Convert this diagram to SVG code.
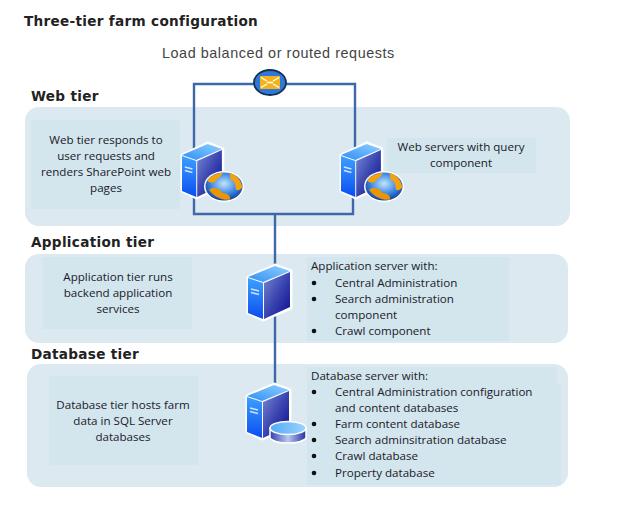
<svg xmlns="http://www.w3.org/2000/svg" width="624" height="525" viewBox="0 0 624 525">
<style>
.tier{fill:#dde9f0}
.inner{fill:#d3e5ed}
.t{font-family:"Open Sans","Noto Sans",sans-serif;font-size:11.6px;fill:#1a1a2a}
.m{text-anchor:middle}
.h{font-family:"DejaVu Sans",sans-serif;font-weight:700;font-size:13.6px;letter-spacing:.3px;fill:#222}
.sub{font-family:"Liberation Sans",sans-serif;font-size:14.4px;fill:#444;letter-spacing:.55px}
.wire{fill:none;stroke:#3f68a9;stroke-width:2.4}
.dot{fill:#111}
</style>
<defs>
<linearGradient id="front" x1="0" y1="0" x2="0" y2="1"><stop offset="0" stop-color="#3da0ff"/><stop offset="1" stop-color="#0a4df0"/></linearGradient>
<linearGradient id="side" x1="0" y1="0" x2="1" y2="1"><stop offset="0" stop-color="#7a8ad4"/><stop offset=".5" stop-color="#3a45b0"/><stop offset="1" stop-color="#0c0c90"/></linearGradient>
<linearGradient id="top" x1="0" y1="1" x2="1" y2="0"><stop offset="0" stop-color="#2f8df5"/><stop offset="1" stop-color="#8fd0ff"/></linearGradient>
<radialGradient id="sea" cx=".5" cy=".4" r=".6"><stop offset="0" stop-color="#c4e4ff"/><stop offset=".6" stop-color="#3a88e4"/><stop offset="1" stop-color="#123f9a"/></radialGradient>
<linearGradient id="disk" x1="0" y1="0" x2="1" y2="0"><stop offset="0" stop-color="#3340a8"/><stop offset=".5" stop-color="#b8c8f0"/><stop offset="1" stop-color="#2530a0"/></linearGradient>
<linearGradient id="disktop" x1="0" y1="0" x2="1" y2="0"><stop offset="0" stop-color="#55aaf5"/><stop offset="1" stop-color="#9ad4ff"/></linearGradient>
<g id="server">
<path d="M0 0L27-12 43-6V31L15 43 0 36Z" fill="#fff" stroke="#fff" stroke-width="3" stroke-linejoin="round"/>
<path d="M0 1L15 6V42L0 36Z" fill="url(#front)"/>
<path d="M16 6L42-5V30L16 42Z" fill="url(#side)"/>
<path d="M0 0L27-11 42-6 15 5Z" fill="url(#top)"/>
<path d="M3 12L11 14M3 15.500L11 17.500" stroke="#cfe6ff" stroke-width="1.300" fill="none"/>
</g>
<g id="globe">
<ellipse rx="20" ry="15.500" fill="#fff"/>
<ellipse rx="18.500" ry="14" fill="url(#sea)"/>
<path d="M-17-6C-13-11-7-13-1-14-2-10-6-9-8-6-10-3-14-3-17-6Z" fill="#f2a20c"/>
<path d="M5-14C12-12 17-7 18.500 1 16 3 14 5 12 3 11-1 12-4 8-6 5-8 7-11 5-14Z" fill="#f2a20c"/>
<path d="M-15 3C-9 0-4 2-2 6 2 7 7 8 6 13 0 14.500-10 11-15 3Z" fill="#e8950a"/>
</g>
</defs>

<g id="tier-panels">
<rect class="tier" x="25" y="107" width="545" height="119" rx="14"/>
<rect class="tier" x="25" y="254" width="543" height="89" rx="14"/>
<rect class="tier" x="27" y="364" width="541" height="123" rx="14"/>
</g>

<text class="h" x="24" y="26">Three-tier farm configuration</text>
<text class="sub" x="162" y="58">Load balanced or routed requests</text>
<text class="h" x="31" y="101">Web tier</text>
<text class="h" x="31" y="247">Application tier</text>
<text class="h" x="31" y="359">Database tier</text>

<g id="connectors">
<path class="wire" d="M194 190V84H355V150M353 190V214H194V190M275 214V265M275 315V400"/>
</g>

<g id="web-desc">
<rect class="inner" x="31" y="120" width="149" height="89"/>
<text class="t m" x="106" y="144">Web tier responds to</text>
<text class="t m" x="106" y="160">user requests and</text>
<text class="t m" x="106" y="176">renders SharePoint web</text>
<text class="t m" x="106" y="192">pages</text>
</g>
<g id="web-note">
<rect class="inner" x="387" y="138" width="149" height="35"/>
<text class="t m" x="461" y="151">Web servers with query</text>
<text class="t m" x="461" y="167">component</text>
</g>
<g id="app-desc">
<rect class="inner" x="43" y="257" width="149" height="72"/>
<text class="t m" x="118" y="281">Application tier runs</text>
<text class="t m" x="118" y="297">backend application</text>
<text class="t m" x="118" y="313">services</text>
</g>
<g id="app-note">
<rect class="inner" x="307" y="257" width="202" height="84"/>
<text class="t" x="311" y="270">Application server with:</text>
<circle class="dot" cx="314" cy="283" r="2.300"/><text class="t" x="335" y="287">Central Administration</text>
<circle class="dot" cx="314" cy="299" r="2.300"/><text class="t" x="335" y="303">Search administration</text>
<text class="t" x="335" y="319">component</text>
<circle class="dot" cx="314" cy="331" r="2.300"/><text class="t" x="335" y="335">Crawl component</text>
</g>
<g id="db-desc">
<rect class="inner" x="49" y="376" width="149" height="89"/>
<text class="t m" x="123" y="409">Database tier hosts farm</text>
<text class="t m" x="123" y="425">data in SQL Server</text>
<text class="t m" x="123" y="441">databases</text>
</g>
<g id="db-note">
<path class="inner" d="M307 367H557V385H561V485H307Z"/>
<text class="t" x="311" y="380">Database server with:</text>
<circle class="dot" cx="314" cy="392" r="2.300"/><text class="t" x="335" y="396">Central Administration configuration</text>
<text class="t" x="335" y="412">and content databases</text>
<circle class="dot" cx="314" cy="424" r="2.300"/><text class="t" x="335" y="428">Farm content database</text>
<circle class="dot" cx="314" cy="440" r="2.300"/><text class="t" x="335" y="444">Search adminsitration database</text>
<circle class="dot" cx="314" cy="456" r="2.300"/><text class="t" x="335" y="460">Crawl database</text>
<circle class="dot" cx="314" cy="473" r="2.300"/><text class="t" x="335" y="477">Property database</text>
</g>

<g id="load-balancer" transform="translate(270 82.500)">
<ellipse rx="16" ry="12.500" fill="#2f78d8" stroke="#12304f" stroke-width="1.800"/>
<rect x="-10" y="-6.500" width="20" height="13" fill="#f5b21a"/>
<path d="M-9-5L-3-1.500M9-5L3-1.500M-9 5L-3 1.500M9 5L3 1.500M-3 0H3" fill="none" stroke="#fff" stroke-width="1.400"/>
</g>
<g id="web-server-1">
<use href="#server" transform="translate(182 155) scale(.95 1)"/>
<use href="#globe" transform="translate(224 186.500)"/>
</g>
<g id="web-server-2">
<use href="#server" transform="translate(341 155) scale(.95 1)"/>
<use href="#globe" transform="translate(384 186.500)"/>
</g>
<g id="app-server">
<use href="#server" transform="translate(248 277)"/>
</g>
<g id="db-server">
<use href="#server" transform="translate(247 396)"/>
<path d="M270 428V438A18.500 6.500 0 0 0 306 438V428Z" fill="url(#disk)" stroke="#fff" stroke-width="1.500"/>
<ellipse cx="288" cy="428" rx="18" ry="6.500" fill="url(#disktop)" stroke="#fff" stroke-width="1.500"/>
</g>
</svg>
